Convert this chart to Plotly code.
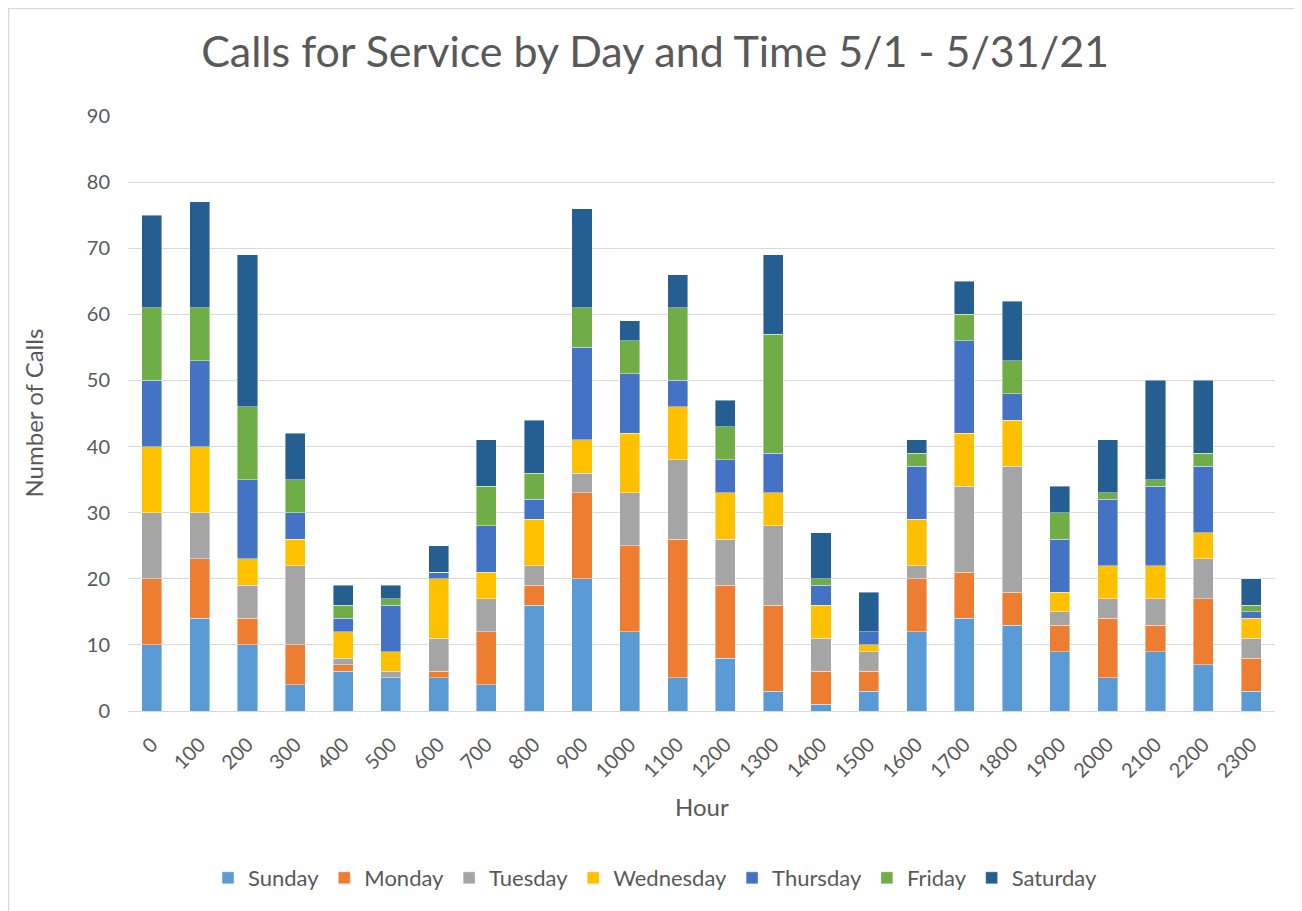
import plotly.graph_objects as go

hours = ["0", "100", "200", "300", "400", "500", "600", "700", "800", "900", "1000", "1100",
         "1200", "1300", "1400", "1500", "1600", "1700", "1800", "1900", "2000", "2100", "2200", "2300"]

sunday    = [10, 14, 10, 4, 6, 5, 5, 4, 16, 20, 12, 5, 8, 3, 1, 3, 12, 14, 13, 9, 5, 9, 7, 3]
monday    = [10, 9, 4, 6, 1, 0, 1, 8, 3, 13, 13, 21, 11, 13, 5, 3, 8, 7, 5, 4, 9, 4, 10, 5]
tuesday   = [10, 7, 5, 12, 1, 1, 5, 5, 3, 3, 8, 12, 7, 12, 5, 3, 2, 13, 19, 2, 3, 4, 6, 3]
wednesday = [10, 10, 4, 4, 4, 3, 9, 4, 7, 5, 9, 8, 7, 5, 5, 1, 7, 8, 7, 3, 5, 5, 4, 3]
thursday  = [10, 13, 12, 4, 2, 7, 1, 7, 3, 14, 9, 4, 5, 6, 3, 2, 8, 14, 4, 8, 10, 12, 10, 1]
friday    = [11, 8, 11, 5, 2, 1, 0, 6, 4, 6, 5, 11, 5, 18, 1, 0, 2, 4, 5, 4, 1, 1, 2, 1]
saturday  = [14, 16, 23, 7, 3, 2, 4, 7, 8, 15, 3, 5, 4, 12, 7, 6, 2, 5, 9, 4, 8, 15, 11, 4]

series = [
    ("Sunday", sunday, "#5B9BD5"),
    ("Monday", monday, "#ED7D31"),
    ("Tuesday", tuesday, "#A5A5A5"),
    ("Wednesday", wednesday, "#FFC000"),
    ("Thursday", thursday, "#4472C4"),
    ("Friday", friday, "#70AD47"),
    ("Saturday", saturday, "#255E91"),
]

FONT = "Lato"
GREY = "#595959"

fig = go.Figure()
for name, vals, color in series:
    fig.add_trace(go.Bar(
        x=hours, y=vals, name=name,
        marker=dict(color=color, line=dict(color="rgba(255,255,255,0.7)", width=0.6)),
    ))

fig.update_layout(
    barmode="stack",
    bargap=0.58,
    width=1302, height=911,
    paper_bgcolor="white", plot_bgcolor="white",
    margin=dict(l=120, r=35, t=108, b=208),
    font=dict(family=FONT, color=GREY, size=20),
    title=dict(text="Calls for Service by Day and Time 5/1 - 5/31/21",
               x=0.497, xanchor="center", y=0.9517, yanchor="middle",
               font=dict(family=FONT, size=43, color=GREY)),
    xaxis=dict(
        tickangle=-45, tickfont=dict(size=20, color=GREY), ticklabelstandoff=13,
        showgrid=False, showline=True, linecolor="#D9D9D9", linewidth=1,
        ticks="", automargin=False,
    ),
    yaxis=dict(
        range=[0, 90], dtick=10, tickfont=dict(size=20, color=GREY), ticklabelstandoff=17,
        showgrid=True, gridcolor="#D9D9D9", gridwidth=1,
        zeroline=False, showline=False, ticks="",
        automargin=False,
    ),
    legend=dict(orientation="h", x=0.4595, xanchor="center", y=-0.2807, yanchor="middle",
                font=dict(size=22, color=GREY), traceorder="normal",
                itemwidth=30),
    annotations=[
        dict(text="Hour", xref="paper", yref="paper", x=0.5, y=-0.1597,
             xanchor="center", yanchor="middle", showarrow=False,
             font=dict(size=24, color=GREY)),
        dict(text="Number of Calls", xref="paper", yref="paper", x=-0.0828, y=0.5,
             xanchor="center", yanchor="middle", textangle=-90, showarrow=False,
             font=dict(size=24, color=GREY)),
    ],
    shapes=[dict(type="rect", xref="paper", yref="paper",
                 x0=-0.1042, x1=1.05, y0=-0.3395, y1=1.1807,
                 line=dict(color="#D9D9D9", width=1.5))],
)

fig.write_html("out.html")
